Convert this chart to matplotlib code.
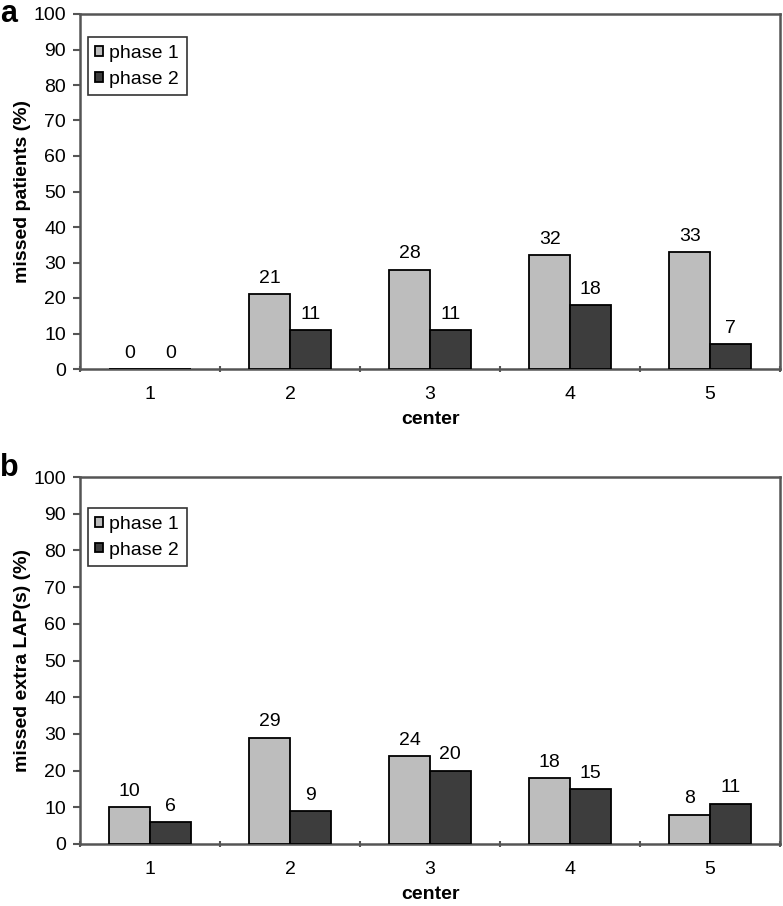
import matplotlib
matplotlib.use("Agg")
import matplotlib.pyplot as plt
import numpy as np

centers = ["1", "2", "3", "4", "5"]
a_phase1 = [0, 21, 28, 32, 33]
a_phase2 = [0, 11, 11, 18, 7]
b_phase1 = [10, 29, 24, 18, 8]
b_phase2 = [6, 9, 20, 15, 11]
yticks = [0, 10, 20, 30, 40, 50, 60, 70, 80, 90, 100]

plt.rcParams['font.family'] = ['Liberation Sans', 'DejaVu Sans']

W, H = 783, 906
fig = plt.figure(figsize=(W / 100, H / 100), dpi=100)

def make_ax(top_px, bottom_px):
    left, right = 80, 780
    return fig.add_axes([left / W, (H - bottom_px) / H, (right - left) / W, (bottom_px - top_px) / H])

ax_a = make_ax(14, 369)
ax_b = make_ax(477, 844)

light = "#bdbdbd"
dark = "#3d3d3d"
spine_col = "#555555"
FS = 14

def draw(ax, p1, p2, ylabel, leg_top):
    x = np.arange(1, len(centers) + 1)
    w = 0.29
    ax.bar(x - w / 2, p1, w, color=light, edgecolor="black", linewidth=1.3, label="phase 1", zorder=3)
    ax.bar(x + w / 2, p2, w, color=dark, edgecolor="black", linewidth=1.3, label="phase 2", zorder=3)
    for xi, v in zip(x - w / 2, p1):
        ax.text(xi, v + 2, str(v), ha="center", va="bottom", fontsize=FS)
    for xi, v in zip(x + w / 2, p2):
        ax.text(xi, v + 2, str(v), ha="center", va="bottom", fontsize=FS)
    ax.set_xlim(0.5, len(centers) + 0.5)
    ax.set_ylim(0, 100)
    ax.set_yticks(yticks)
    ax.set_yticklabels([str(t) for t in yticks], fontsize=FS)
    ax.set_xticks(x)
    ax.set_xticklabels(centers, fontsize=FS)
    ax.tick_params(axis="x", length=0, pad=12)
    ax.set_xticks(np.arange(0.5, len(centers) + 1, 1), minor=True)
    ax.tick_params(axis="x", which="minor", length=5, direction="inout", color=spine_col, width=1.5)
    ax.tick_params(axis="y", length=5, direction="out", color=spine_col, width=1.5, pad=5)
    for s in ax.spines.values():
        s.set_color(spine_col)
        s.set_linewidth(1.8)
    ax.set_xlabel("center", fontsize=FS, fontweight="bold", labelpad=6)
    ax.set_ylabel(ylabel, fontsize=FS, fontweight="bold", labelpad=2)
    leg = ax.legend(loc="upper left", bbox_to_anchor=(0.011, leg_top), fontsize=FS, frameon=True,
                    fancybox=False, edgecolor="black", handlelength=0.4, handleheight=0.4,
                    handletextpad=0.3, borderpad=0.4, labelspacing=0.45, borderaxespad=0)
    leg.get_frame().set_linewidth(1.2)
    return ax

draw(ax_a, a_phase1, a_phase2, "missed patients (%)", 0.935)
draw(ax_b, b_phase1, b_phase2, "missed extra LAP(s) (%)", 0.9155)

fig.text(0 / W, 1 - 22 / H, "a", fontsize=22, fontweight="bold", va="baseline", ha="left")
fig.text(0 / W, 1 - 476 / H, "b", fontsize=22, fontweight="bold", va="baseline", ha="left")

fig.savefig("out.png", dpi=100)
